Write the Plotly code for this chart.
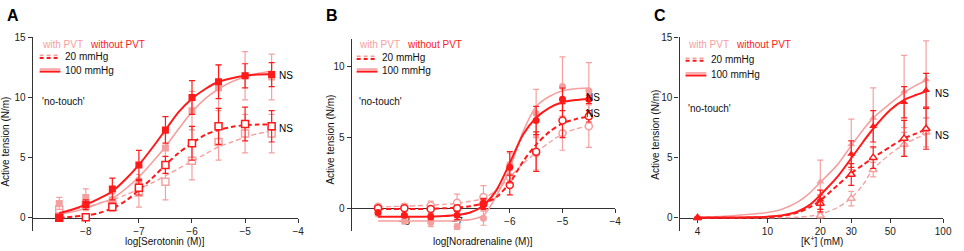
import plotly.graph_objects as go

# ---------------- DATA ----------------
# Panel A: serotonin (log M)
SER_X = [-8.5, -8, -7.5, -7, -6.5, -6, -5.5, -5, -4.5]
A_with100 = [1.2, 1.7, 1.5, 3.0, 5.8, 8.9, 10.8, 11.8, 11.7]
A_with100_err = [0.5, 0.7, 0.5, 0.6, 1.2, 1.6, 1.9, 2.0, 1.9]
A_wo100 = [0.0, 1.1, 2.4, 4.4, 7.3, 10.0, 11.3, 11.8, 11.9]
A_wo100_err = [0.1, 0.4, 0.9, 1.2, 1.1, 1.4, 1.4, 1.0, 1.0]
A_wo20 = [0.0, 0.05, 0.9, 2.5, 4.4, 6.2, 7.6, 7.8, 7.6]
A_wo20_err = [0.1, 0.1, 0.3, 0.6, 0.7, 1.4, 1.5, 1.4, 1.3]
A_with20 = [0.7, 1.1, 1.1, 2.1, 3.0, 4.75, 6.3, 7.0, 7.0]
A_with20_err = [0.5, 0.5, 0.5, 1.2, 1.5, 1.6, 1.5, 1.6, 1.6]
# fitted curves
A_FIT_X = [-8.5, -8.25, -8, -7.75, -7.5, -7.25, -7, -6.75, -6.5, -6.25, -6, -5.75, -5.5, -5.25, -5, -4.75, -4.5]
A_fit_wo100 = [0.4, 0.7, 1.1, 1.6, 2.2, 3.2, 4.4, 5.8, 7.3, 8.8, 9.9, 10.7, 11.3, 11.6, 11.8, 11.9, 11.95]
A_fit_with100 = [0.3, 0.5, 0.8, 1.2, 1.6, 2.4, 3.4, 4.6, 5.9, 7.4, 8.8, 9.9, 10.7, 11.3, 11.7, 12.0, 12.2]
A_fit_wo20 = [0.0, 0.1, 0.2, 0.4, 0.8, 1.4, 2.3, 3.3, 4.4, 5.4, 6.2, 6.9, 7.3, 7.55, 7.7, 7.75, 7.75]
A_fit_with20 = [0.5, 0.7, 0.9, 1.2, 1.5, 1.9, 2.4, 2.9, 3.5, 4.1, 4.7, 5.3, 5.9, 6.3, 6.7, 7.0, 7.2]

# Panel B: noradrenaline (log M)
NA_X = [-8.5, -8, -7.5, -7, -6.5, -6, -5.5, -5, -4.5]
B_with100 = [-0.4, -0.9, -1.0, -1.3, -0.7, 3.1, 6.7, 8.6, 8.3]
B_with100_err = [0.1, 0.2, 0.3, 0.2, 0.5, 0.8, 1.7, 2.1, 2.0]
B_wo100 = [-0.3, -0.5, -0.6, -0.5, 0.3, 2.9, 6.2, 7.7, 7.7]
B_wo100_err = [0.1, 0.1, 0.2, 0.3, 0.4, 1.1, 1.0, 0.8, 0.3]
B_wo20 = [0.0, 0.0, -0.05, 0.0, 0.3, 1.65, 4.0, 6.2, 6.5]
B_wo20_err = [0.1, 0.1, 0.1, 0.2, 0.3, 0.7, 1.4, 1.2, 0.4]
B_with20 = [0.1, 0.1, 0.2, 0.4, 0.8, 2.2, 3.9, 5.3, 5.8]
B_with20_err = [0.1, 0.2, 0.3, 0.6, 0.8, 0.5, 1.2, 1.2, 1.5]
B_FIT_X = [-8.5, -8.25, -8, -7.75, -7.5, -7.25, -7, -6.75, -6.5, -6.25, -6, -5.75, -5.5, -5.25, -5, -4.75, -4.5]
B_fit_with100 = [-0.9, -0.9, -0.9, -0.9, -0.9, -0.9, -0.88, -0.8, -0.5, 0.9, 2.8, 5.4, 7.2, 7.9, 8.3, 8.45, 8.5]
B_fit_wo100 = [-0.6, -0.6, -0.6, -0.6, -0.58, -0.55, -0.47, -0.3, 0.2, 1.3, 3.2, 5.2, 6.4, 7.1, 7.5, 7.65, 7.75]
B_fit_wo20 = [-0.05, -0.05, -0.05, -0.05, -0.03, 0.0, 0.05, 0.15, 0.35, 0.8, 1.8, 3.3, 4.5, 5.4, 6.0, 6.3, 6.5]
B_fit_with20 = [0.1, 0.12, 0.15, 0.18, 0.22, 0.28, 0.35, 0.5, 0.7, 1.3, 2.2, 3.15, 3.95, 4.65, 5.25, 5.6, 5.85]

# Panel C: K+ (mM)
K_X = [4, 20, 30, 40, 60, 80]
C_with100 = [0.0, 3.0, 6.1, 8.3, 10.5, 11.5]
C_with100_err = [0.1, 1.8, 2.1, 2.5, 3.0, 3.2]
C_wo100 = [0.0, 1.5, 5.3, 7.6, 9.6, 10.6]
C_wo100_err = [0.05, 0.8, 1.1, 1.3, 1.3, 1.4]
C_wo20 = [0.0, 1.2, 3.6, 5.0, 6.6, 7.4]
C_wo20_err = [0.05, 0.7, 0.9, 0.9, 1.5, 1.7]
C_with20 = [0.0, 0.2, 1.6, 4.0, 6.1, 7.1]
C_with20_err = [0.05, 0.2, 0.6, 0.6, 1.0, 1.2]
C_FIT_X = [4, 6, 8, 10, 12, 15, 17.5, 20, 25, 30, 35, 40, 50, 60, 70, 80]
C_fit_with100 = [0.05, 0.15, 0.3, 0.45, 0.7, 1.35, 2.1, 2.95, 4.4, 6.0, 7.3, 8.3, 9.5, 10.4, 11.0, 11.4]
C_fit_wo100 = [0.0, 0.02, 0.05, 0.1, 0.2, 0.55, 1.1, 1.9, 3.4, 4.95, 6.3, 7.4, 8.95, 9.8, 10.2, 10.5]
C_fit_wo20 = [0.0, 0.0, 0.02, 0.05, 0.15, 0.45, 0.9, 1.45, 2.7, 3.7, 4.4, 5.0, 5.9, 6.6, 7.0, 7.35]
C_fit_with20 = [0.0, 0.0, 0.0, 0.0, 0.02, 0.05, 0.15, 0.3, 0.85, 1.65, 2.75, 4.05, 5.3, 6.1, 6.6, 6.95]

K_TICKS = [4, 10, 20, 30, 50, 100]
K_TICKTEXT = ["4", "10", "20", "30", "50", "100"]

# ---------------- STYLE ----------------
W, H = 964, 251
RED = "#FF1A1A"
PINK = "#F5A0A0"
FONT = "Liberation Sans, Arial, sans-serif"
AX = "#333333"


def px(x):
    return x / W


def py(y):
    return 1 - y / H


fig = go.Figure()

panels = [
    dict(xa="x", ya="y", sym="square", fx=A_FIT_X, dx=SER_X,
         fits=[A_fit_with20, A_fit_with100, A_fit_wo20, A_fit_wo100],
         data=[(A_with20, A_with20_err), (A_with100, A_with100_err),
               (A_wo20, A_wo20_err), (A_wo100, A_wo100_err)]),
    dict(xa="x2", ya="y2", sym="circle", fx=B_FIT_X, dx=NA_X,
         fits=[B_fit_with20, B_fit_with100, B_fit_wo20, B_fit_wo100],
         data=[(B_with20, B_with20_err), (B_with100, B_with100_err),
               (B_wo20, B_wo20_err), (B_wo100, B_wo100_err)]),
    dict(xa="x3", ya="y3", sym="triangle-up", fx=C_FIT_X, dx=K_X,
         fits=[C_fit_with20, C_fit_with100, C_fit_wo20, C_fit_wo100],
         data=[(C_with20, C_with20_err), (C_with100, C_with100_err),
               (C_wo20, C_wo20_err), (C_wo100, C_wo100_err)]),
]

# series: (colour, dashed?, open marker?, line width)
series_style = [
    (PINK, True, True, 1.4),
    (PINK, False, False, 1.6),
    (RED, True, True, 2.0),
    (RED, False, False, 2.0),
]

for p in panels:
    for fit, (vals, errs), (col, dashed, opn, lw) in zip(p["fits"], p["data"], series_style):
        fig.add_trace(go.Scatter(
            x=p["fx"], y=fit, mode="lines", xaxis=p["xa"], yaxis=p["ya"],
            line=dict(color=col, width=lw, shape="spline", smoothing=0.8,
                      dash="5px,3px" if dashed else "solid"),
            hoverinfo="skip", showlegend=False))
        fig.add_trace(go.Scatter(
            x=p["dx"], y=vals, mode="markers", xaxis=p["xa"], yaxis=p["ya"],
            marker=dict(symbol=p["sym"], size=7,
                        color="white" if opn else col,
                        line=dict(color=col, width=1.5 if opn else 0)),
            error_y=dict(type="data", array=errs, visible=True, color=col,
                         thickness=1.2, width=3),
            showlegend=False))

axis_common = dict(showline=True, linecolor=AX, linewidth=1.3, ticks="outside",
                   ticklen=4, tickwidth=1.2, tickcolor=AX, showgrid=False,
                   zeroline=False, layer="below traces",
                   tickfont=dict(family=FONT, size=10, color="#222222"))

fig.update_layout(
    width=W, height=H, margin=dict(l=0, r=0, t=0, b=0),
    paper_bgcolor="white", plot_bgcolor="white", showlegend=False,
    xaxis=dict(domain=[px(33), px(301)], range=[-9, -4], anchor="free",
               position=py(217), tickvals=[-8, -7, -6, -5, -4], **axis_common),
    yaxis=dict(domain=[py(230), py(32)], range=[-1.05, 15], anchor="x",
               tickvals=[0, 5, 10, 15], **axis_common),
    xaxis2=dict(domain=[px(355), px(621)], range=[-9, -4], anchor="free",
                position=py(207.3), tickvals=[-8, -7, -6, -5, -4], **axis_common),
    yaxis2=dict(domain=[py(230), py(33.3)], range=[-1.57, 12], anchor="x2",
                tickvals=[0, 5, 10], **axis_common),
    xaxis3=dict(domain=[px(686), px(952)], type="log", range=[0.5, 2.0],
                anchor="free", position=py(217), tickvals=K_TICKS,
                ticktext=K_TICKTEXT, **axis_common),
    yaxis3=dict(domain=[py(230), py(32)], range=[-1.05, 15], anchor="x3",
                tickvals=[0, 5, 10, 15], **axis_common),
)

ann = []
shapes = []


def text(x, y, s, size=10, color="#111111", xanchor="left", angle=0, bold=False):
    if bold:
        s = "<b>" + s + "</b>"
    ann.append(dict(x=px(x), y=py(y), xref="paper", yref="paper", text=s,
                    showarrow=False, xanchor=xanchor, yanchor="middle",
                    textangle=angle,
                    font=dict(family=FONT, size=size, color=color)))


def hline(x0, x1, y, color, width, dash="solid"):
    shapes.append(dict(type="line", xref="paper", yref="paper",
                       x0=px(x0), x1=px(x1), y0=py(y), y1=py(y),
                       line=dict(color=color, width=width, dash=dash)))


# panel letters
for lx, letter in [(5, "A"), (327, "B"), (658, "C")]:
    text(lx, 10, letter, size=16, bold=True, color="#000000")

# per-panel legends and notes
leg = [
    # x0, y_with, y20, y100, y_notouch
    (34, 39, 52, 66, 98),
    (354, 39, 53, 66, 98),
    (686, 39, 55, 70, 105),
]
for x0, yw, y20, y100, ynt in leg:
    text(x0 + 6, yw, "with PVT", color=PINK)
    text(x0 + 55, yw, "without PVT", color=RED)
    hline(x0 + 6, x0 + 27, y20 - 1.4, PINK, 1.6, "4px,3px")
    hline(x0 + 6, x0 + 27, y20 + 1.2, RED, 2, "4px,3px")
    text(x0 + 30, y20, "20 mmHg")
    hline(x0 + 6, x0 + 27, y100 - 1.4, PINK, 1.6)
    hline(x0 + 6, x0 + 27, y100 + 1.2, RED, 2)
    text(x0 + 30, y100, "100 mmHg")
    text(x0 + 6, ynt, "'no-touch'")

# NS labels
for x, y in [(280, 71), (280, 126), (589, 94), (589, 110), (942, 90), (942, 133)]:
    text(x, y, "NS", size=10, color="#000000")

# axis titles
for x, y in [(6, 139), (334, 137), (662, 132)]:
    text(x, y, "Active tension (N/m)", xanchor="center", angle=-90)
text(167, 241, "log[Serotonin (M)]", xanchor="center")
text(488, 241, "log[Noradrenaline (M)]", xanchor="center")
text(830, 241, "[K<sup>+</sup>] (mM)", xanchor="center")

fig.update_layout(annotations=ann, shapes=shapes)
fig.write_html(
    "out.html",
    config={"responsive": False, "displayModeBar": False},
    post_script="document.body.style.margin='0';document.body.style.overflow='hidden';",
)
